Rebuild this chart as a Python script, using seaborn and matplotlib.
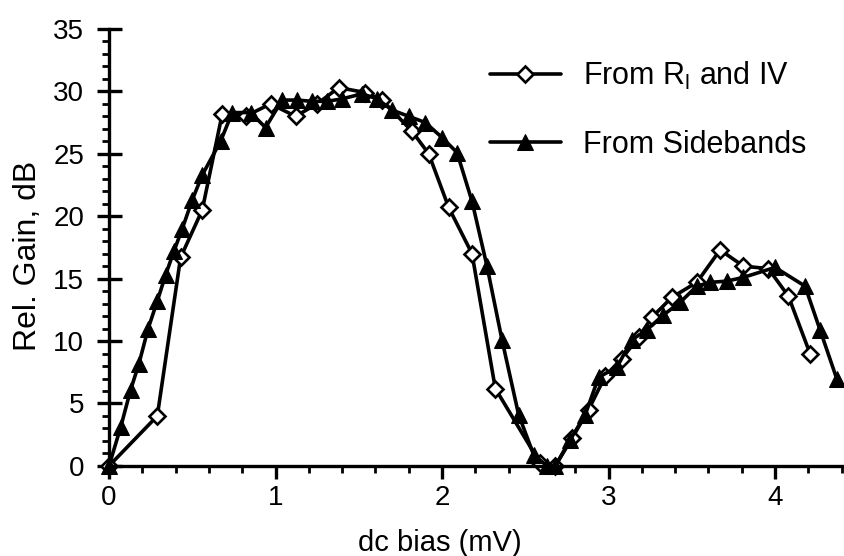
import pandas as pd
import matplotlib
matplotlib.use("Agg")
import matplotlib.pyplot as plt
import seaborn as sns
from matplotlib.ticker import MultipleLocator

# Gain estimated from R_l and IV curve (open diamonds)
x_riv = [0.0, 0.29, 0.43, 0.56, 0.68, 0.82, 0.97, 1.12, 1.25, 1.38, 1.54, 1.64,
         1.82, 1.92, 2.04, 2.18, 2.32, 2.59, 2.68, 2.78, 2.88, 2.98, 3.08, 3.18,
         3.26, 3.38, 3.53, 3.67, 3.81, 3.96, 4.08, 4.21]
y_riv = [0.0, 4.0, 16.7, 20.5, 28.2, 28.0, 29.0, 28.0, 29.0, 30.3, 29.9, 29.3,
         26.8, 25.0, 20.7, 17.0, 6.2, 0.2, 0.0, 2.2, 4.5, 7.2, 8.6, 10.3,
         11.9, 13.5, 14.7, 17.3, 16.0, 15.8, 13.6, 9.0]

# Gain measured from sidebands (filled triangles)
x_sb = [0.0, 0.07, 0.13, 0.18, 0.235, 0.29, 0.34, 0.39, 0.44, 0.50, 0.56, 0.67,
        0.74, 0.85, 0.94, 1.04, 1.13, 1.22, 1.31, 1.40, 1.52, 1.61, 1.70, 1.80,
        1.90, 2.00, 2.09, 2.18, 2.27, 2.36, 2.46, 2.55, 2.63, 2.68, 2.77, 2.86,
        2.94, 3.05, 3.14, 3.23, 3.33, 3.43, 3.53, 3.61, 3.71, 3.81, 4.00, 4.18,
        4.27, 4.37]
y_sb = [0.0, 3.1, 6.1, 8.2, 11.0, 13.2, 15.3, 17.2, 19.0, 21.3, 23.3, 26.0,
        28.3, 28.3, 27.1, 29.3, 29.3, 29.2, 29.2, 29.4, 29.8, 29.4, 28.5, 28.0,
        27.5, 26.3, 25.1, 21.2, 16.0, 10.1, 4.1, 0.9, 0.0, 0.0, 2.1, 4.1,
        7.1, 7.9, 10.1, 10.9, 12.1, 13.1, 14.4, 14.7, 14.8, 15.1, 15.9, 14.4,
        10.9, 7.0]

df_riv = pd.DataFrame({"bias": x_riv, "gain": y_riv})
df_sb = pd.DataFrame({"bias": x_sb, "gain": y_sb})

sns.set_style("ticks")
plt.rcParams["font.family"] = ["Liberation Sans", "DejaVu Sans"]
plt.rcParams["mathtext.fontset"] = "custom"
plt.rcParams["mathtext.rm"] = "Liberation Sans"
plt.rcParams["text.color"] = "black"
plt.rcParams["axes.labelcolor"] = "black"

fig = plt.figure(figsize=(8.45, 5.56), dpi=100)
ax = fig.add_axes([0.129, 0.162, 0.871, 0.786])

sns.lineplot(data=df_riv, x="bias", y="gain", sort=False, ax=ax, color="black",
             linewidth=2.6, marker="D", markersize=8.5, markerfacecolor="white",
             markeredgecolor="black", markeredgewidth=1.9, clip_on=False,
             label="From R$_\\mathregular{l}$ and IV")
sns.lineplot(data=df_sb, x="bias", y="gain", sort=False, ax=ax, color="black",
             linewidth=2.6, marker="^", markersize=12, markerfacecolor="black",
             markeredgecolor="black", clip_on=False,
             label="From Sidebands")

ax.set_xlim(0, 4.42)
ax.set_ylim(0, 35)
ax.xaxis.set_major_locator(MultipleLocator(1))
ax.xaxis.set_minor_locator(MultipleLocator(0.2))
ax.yaxis.set_major_locator(MultipleLocator(5))
ax.yaxis.set_minor_locator(MultipleLocator(1))

for side in ["top", "right"]:
    ax.spines[side].set_visible(False)
for side in ["left", "bottom"]:
    ax.spines[side].set_linewidth(2.4)
    ax.spines[side].set_color("black")

ax.tick_params(axis="both", which="major", width=2.4, length=9, labelsize=20,
               colors="black")
ax.tick_params(axis="y", which="major", direction="inout", length=18, pad=9)
ax.tick_params(axis="both", which="minor", width=2.0, length=5, direction="out",
               colors="black")
ax.tick_params(axis="x", which="major", pad=5)

ax.set_xlabel("dc bias (mV)", fontsize=21)
ax.set_ylabel("Rel. Gain, dB", fontsize=23)
ax.xaxis.set_label_coords(0.45, -0.145)
ax.yaxis.set_label_coords(-0.09, 0.48)

leg = ax.legend(loc="upper left", bbox_to_anchor=(0.518, 0.93), frameon=False,
                fontsize=22, handlelength=2.3, labelspacing=1.25,
                handletextpad=0.75, borderpad=0, borderaxespad=0)

fig.savefig("out.png", dpi=100)
